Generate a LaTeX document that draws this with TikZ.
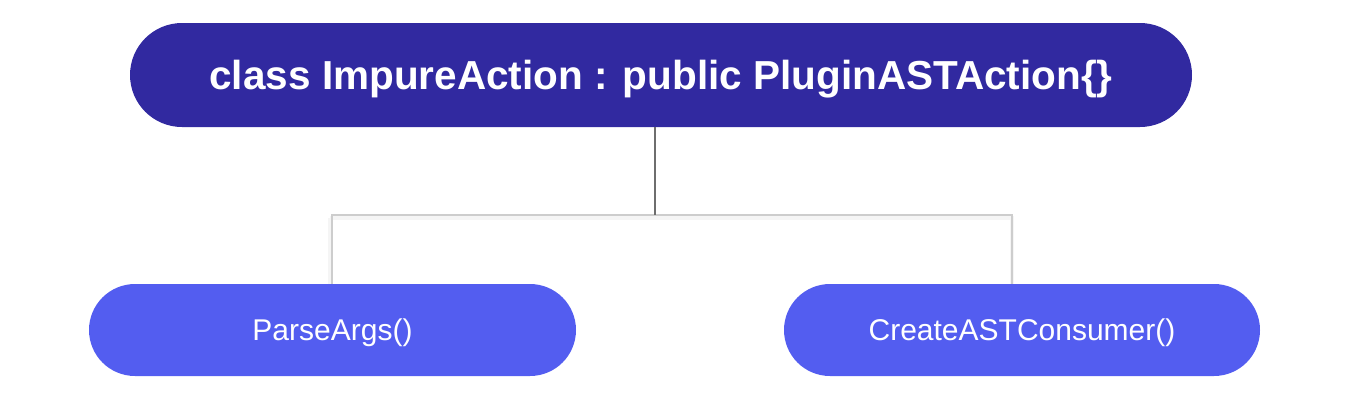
\documentclass[tikz,border=0pt]{standalone}
\usepackage{fontspec}
\setmainfont{Liberation Sans}
\definecolor{classblue}{RGB}{49,41,160}
\definecolor{methodblue}{RGB}{83,93,240}
\definecolor{stemgray}{RGB}{110,110,110}
\definecolor{branchgray}{RGB}{205,205,205}
\begin{document}
\begin{tikzpicture}[
              x = 1pt, y = -1pt,
              classbox/.style = {fill = classblue, text = white, rounded corners = 52pt,
                                 minimum width = 1062pt, minimum height = 104pt, inner sep = 0pt,
                                 text height = 29pt, text depth = 0pt,
                                 font = \fontsize{40.5}{48}\selectfont\bfseries},
              methodbox/.style = {fill = methodblue, text = white, rounded corners = 46pt,
                                  minimum height = 92pt, inner sep = 0pt,
                                  text height = 21.5pt, text depth = 0pt,
                                  font = \fontsize{30}{36}\selectfont},
              stem/.style = {draw = stemgray, line width = 2pt},
              branch/.style = {draw = branchgray, line width = 2pt},
              shade/.style = {draw = black!4, line width = 4pt}
            ]
            \useasboundingbox (0, 0) rectangle (1350, 400);
            % nodes
            \node[classbox] (impure) at (661, 75) {class ImpureAction : public PluginASTAction\{\}};
            \node[methodbox, minimum width = 487pt] (parse)  at (332.5, 330) {ParseArgs()};
            \node[methodbox, minimum width = 476pt] (create) at (1022, 330) {CreateASTConsumer()};
            \coordinate (fork)  at (655, 215);
            \coordinate (leftc)  at (332, 215);
            \coordinate (rightc) at (1012, 215);
            % shadows
            \draw[shade] (leftc) ++(-2, 3) -- ++(682, 0) -- ++(0, 66);
            \draw[shade] (leftc) ++(-2, 3) -- ++(0, 66);
            % connectors
            \draw[branch] (parse.north -| leftc) -- (leftc) -- (rightc) -- (create.north -| rightc);
            \draw[stem] (impure.south -| fork) -- (fork);
          \end{tikzpicture}
\end{document}
